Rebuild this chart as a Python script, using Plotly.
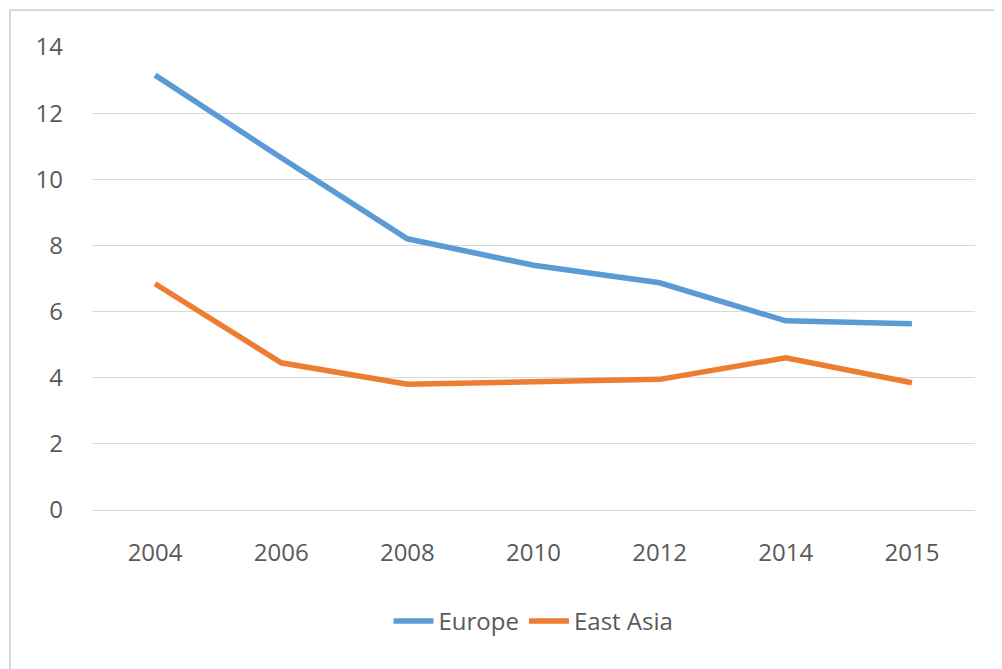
import plotly.graph_objects as go

years = ["2004", "2006", "2008", "2010", "2012", "2014", "2015"]
europe = [13.15, 10.65, 8.2, 7.4, 6.87, 5.72, 5.63]
east_asia = [6.84, 4.45, 3.8, 3.88, 3.95, 4.6, 3.85]
y_ticks = [0, 2, 4, 6, 8, 10, 12, 14]

W, H = 1002, 669
L, R, T, B = 84, 35, 39, 167
PW, PH = W - L - R, H - T - B

fig = go.Figure()
fig.add_trace(go.Scatter(x=years, y=europe, mode="lines", name="Europe",
                         line=dict(color="#5B9BD5", width=5.5)))
fig.add_trace(go.Scatter(x=years, y=east_asia, mode="lines", name="East Asia",
                         line=dict(color="#ED7D31", width=5.5)))

font_family = "Open Sans, sans-serif"
fig.update_layout(
    width=W, height=H,
    margin=dict(l=L, r=R, t=T, b=B),
    paper_bgcolor="white", plot_bgcolor="white",
    font=dict(family=font_family, size=24, color="#595959"),
    xaxis=dict(type="category", range=[-0.5, 6.5], showgrid=False,
               showline=False, ticks="", ticklabelstandoff=26,
               tickfont=dict(size=24, color="#595959")),
    yaxis=dict(range=[0, 14], tickvals=y_ticks, showgrid=True,
               gridcolor="#D9D9D9", gridwidth=1.3, zeroline=True,
               zerolinecolor="#D9D9D9", zerolinewidth=1.3,
               showline=False, ticks="", ticklabelstandoff=28,
               tickfont=dict(size=24, color="#595959")),
    legend=dict(orientation="h", x=0.5, xanchor="center", y=-(89 / PH), yanchor="top",
                font=dict(size=24, color="#595959"), itemwidth=40),
    showlegend=True,
)
# chart frame
fig.add_shape(type="rect", xref="paper", yref="paper",
              x0=(2 - L) / PW, x1=(W + 10 - L) / PW,
              y0=-(B + 10) / PH, y1=1 + (T - 2) / PH,
              line=dict(color="#D9D9D9", width=2), fillcolor="rgba(0,0,0,0)", layer="below")

fig.write_html("out.html")
